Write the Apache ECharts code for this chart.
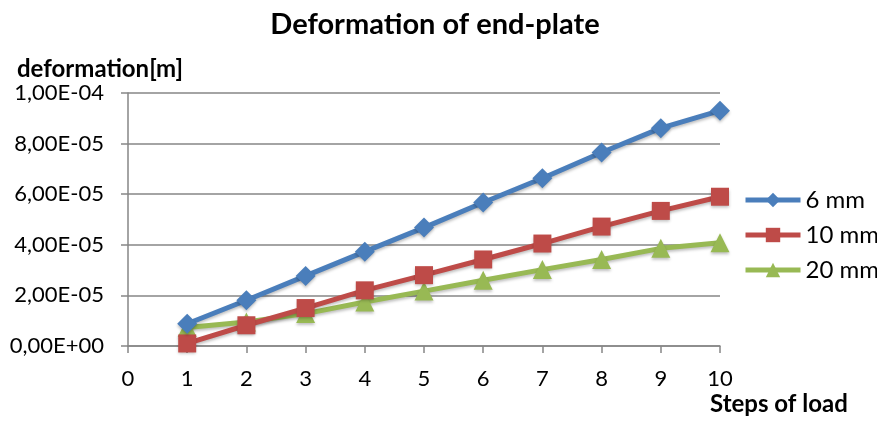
<!DOCTYPE html>
<html>
<head>
<meta charset="utf-8">
<script src="https://cdn.jsdelivr.net/npm/echarts@6/dist/echarts.min.js"></script>
<style>html,body{margin:0;padding:0;background:#fff}#c{width:877px;height:421px}</style>
</head>
<body>
<div id="c"></div>
<script>
const steps = [1, 2, 3, 4, 5, 6, 7, 8, 9, 10];
const seriesNames = ['6 mm', '10 mm', '20 mm'];
const mm6 = [8.8e-6, 1.81e-5, 2.77e-5, 3.73e-5, 4.68e-5, 5.67e-5, 6.63e-5, 7.65e-5, 8.61e-5, 9.30e-5];
const mm10 = [1.0e-6, 8.2e-6, 1.5e-5, 2.2e-5, 2.8e-5, 3.42e-5, 4.05e-5, 4.72e-5, 5.34e-5, 5.9e-5];
const mm20 = [7.3e-6, 9.5e-6, 1.28e-5, 1.74e-5, 2.17e-5, 2.6e-5, 3.02e-5, 3.42e-5, 3.86e-5, 4.08e-5];
const colors = ['#4a7ebb', '#be4b48', '#98b954'];
const symbols = ['diamond', 'rect', 'triangle'];
const symbolSizes = [20, 18, 19];

function fmtSci(v) {
  if (Math.abs(v) < 1e-12) return '0,00E+00';
  let e = Math.floor(Math.log10(Math.abs(v)) + 1e-9);
  let m = v / Math.pow(10, e);
  let s = m.toFixed(2).replace('.', ',');
  let sign = e < 0 ? '-' : '+';
  let ae = Math.abs(e);
  return s + 'E' + sign + (ae < 10 ? '0' + ae : '' + ae);
}

const allData = [mm6, mm10, mm20];
const font = 'Lato, "Open Sans", sans-serif';
const chart = echarts.init(document.getElementById('c'));
chart.setOption({
  animation: false,
  title: {
    text: 'Deformation of end-plate',
    left: 430, top: 5, textAlign: 'center',
    textStyle: { fontFamily: font, fontSize: 29, fontWeight: 'bold', color: '#000' }
  },
  legend: {
    orient: 'vertical', left: 743, top: 188, itemGap: 11, padding: 0,
    itemWidth: 55, itemHeight: 18,
    data: seriesNames,
    lineStyle: { width: 5 },
    textStyle: { fontFamily: font, fontSize: 24, color: '#000' }
  },
  grid: { left: 128, right: 157, top: 93, bottom: 75 },
  xAxis: {
    type: 'value', min: 0, max: 10, interval: 1,
    name: 'Steps of load', nameLocation: 'end',
    nameGap: 0,
    nameTextStyle: { fontFamily: font, fontSize: 24, fontWeight: 'bold', color: '#000', align: 'left', verticalAlign: 'top', padding: [46, 0, 0, -10] },
    axisLine: { lineStyle: { color: '#868686', width: 1.5 } },
    axisTick: { show: true, length: 7, lineStyle: { color: '#868686', width: 1.5 } },
    axisLabel: { fontFamily: font, fontSize: 22, color: '#000', margin: 22 },
    splitLine: { show: false }
  },
  yAxis: {
    type: 'value', min: 0, max: 1e-4, interval: 2e-5,
    name: 'deformation[m]', nameLocation: 'end', nameGap: 12,
    nameTextStyle: { fontFamily: font, fontSize: 24, fontWeight: 'bold', color: '#000', align: 'left', padding: [0, 0, 0, -111] },
    axisLine: { show: true, lineStyle: { color: '#868686', width: 1.5 } },
    axisTick: { show: true, length: 7, lineStyle: { color: '#868686', width: 1.5 } },
    axisLabel: { fontFamily: font, fontSize: 22, color: '#000', margin: 24, formatter: fmtSci },
    splitLine: { lineStyle: { color: '#868686', width: 1.5 } }
  },
  series: seriesNames.map((n, i) => ({
    name: n, type: 'line',
    data: steps.map((s, j) => [s, allData[i][j]]),
    symbol: symbols[i], symbolSize: symbolSizes[i],
    color: colors[i],
    lineStyle: { width: 5, color: colors[i], shadowColor: 'rgba(0,0,0,0.25)', shadowBlur: 3, shadowOffsetY: 2 },
    itemStyle: { color: colors[i], shadowColor: 'rgba(0,0,0,0.25)', shadowBlur: 3, shadowOffsetY: 2 },
    z: 3 - i
  }))
});
</script>
</body>
</html>
